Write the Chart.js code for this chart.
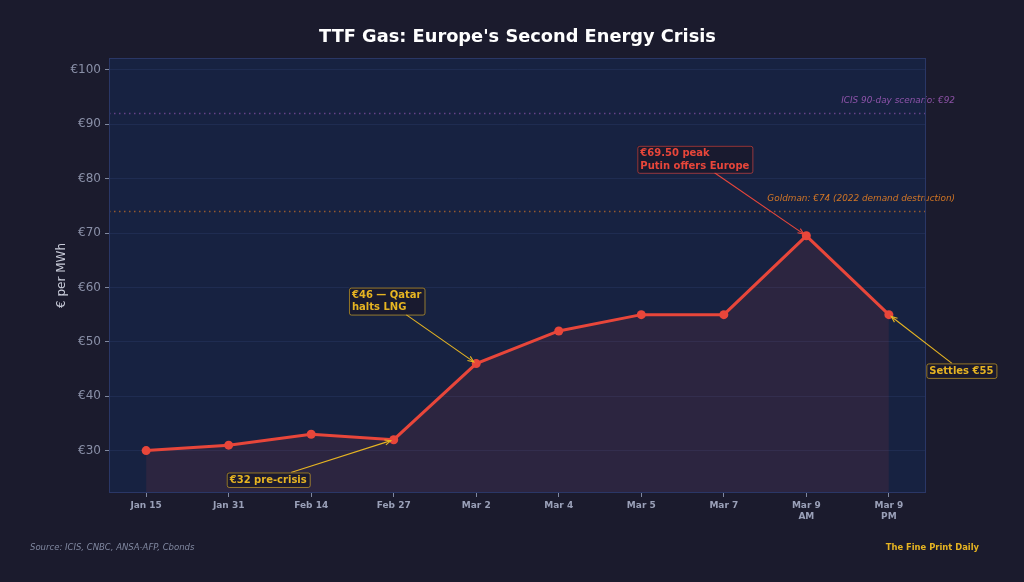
<!DOCTYPE html>
<html><head><meta charset="utf-8">
<script src="https://cdn.jsdelivr.net/npm/chart.js@4/dist/chart.umd.min.js"></script>
<style>html,body{margin:0;padding:0;background:#1b1b2d;}canvas{display:block;}</style>
</head><body>
<canvas id="c" width="1024" height="582"></canvas>
<script>
const categories = [["Jan 15"],["Jan 31"],["Feb 14"],["Feb 27"],["Mar 2"],["Mar 4"],["Mar 5"],["Mar 7"],["Mar 9","AM"],["Mar 9","PM"]];
const prices = [30, 31, 33, 32, 46, 52, 55, 55, 69.5, 55];
const yTicks = [30, 40, 50, 60, 70, 80, 90, 100];
const refLevels = [92, 74];
const refLabels = ["ICIS 90-day scenario: €92", "Goldman: €74 (2022 demand destruction)"];
const annotTexts = [["€32 pre-crisis"], ["€46 — Qatar", "halts LNG"], ["€69.50 peak", "Putin offers Europe"], ["Settles €55"]];
const annotIdx = [3, 4, 8, 9];

const FONT = "'DejaVu Sans', sans-serif";
const refColors = ["#9b59b6", "#e67e22"];
const annotStyle = [
  {dx:-125.5, dy:40, color:"#e6b422"},
  {dx:-89.5, dy:-62.5, color:"#e6b422"},
  {dx:-111.5, dy:-76.5, color:"#e8463a"},
  {dx:72.5, dy:56, color:"#e6b422"}
];

const decor = {
  id:'decor',
  beforeDraw(chart){
    const {ctx, chartArea:a} = chart;
    ctx.save();
    ctx.fillStyle = '#1b1b2d';
    ctx.fillRect(0,0,chart.width,chart.height);
    ctx.fillStyle = '#172241';
    ctx.fillRect(a.left, a.top, a.right-a.left, a.bottom-a.top);
    ctx.restore();
  },
  beforeDatasetsDraw(chart){
    const {ctx, chartArea:a, scales:{y}} = chart;
    ctx.save();
    refLevels.forEach((v,i)=>{
      const py = Math.round(y.getPixelForValue(v))+0.5;
      ctx.strokeStyle = refColors[i];
      ctx.globalAlpha = 0.6;
      ctx.lineWidth = 1.5;
      ctx.setLineDash([1.5,3.5]);
      ctx.beginPath(); ctx.moveTo(a.left, py); ctx.lineTo(a.right, py); ctx.stroke();
      ctx.globalAlpha = 0.9;
      ctx.setLineDash([]);
      ctx.fillStyle = refColors[i];
      ctx.font = "italic 8.9px " + FONT;
      ctx.textAlign = 'right';
      ctx.textBaseline = 'middle';
      ctx.fillText(refLabels[i], 955, py - 13);
    });
    ctx.restore();
  },
  afterDraw(chart){
    const {ctx, chartArea:a, scales:{x,y}} = chart;
    ctx.save();
    // border
    ctx.strokeStyle = '#2a3766';
    ctx.lineWidth = 1;
    ctx.strokeRect(a.left+0.5, a.top+0.5, a.right-a.left-1, a.bottom-a.top-1);
    // title
    ctx.fillStyle = '#ffffff';
    ctx.font = "bold 17.8px " + FONT;
    ctx.textAlign = 'center'; ctx.textBaseline = 'middle';
    ctx.fillText("TTF Gas: Europe's Second Energy Crisis", 517.5, 37);
    // footer
    ctx.font = "italic 8.5px " + FONT;
    ctx.fillStyle = '#8088a0';
    ctx.textAlign = 'left';
    ctx.fillText("Source: ICIS, CNBC, ANSA-AFP, Cbonds", 30, 548);
    ctx.font = "bold 8.4px " + FONT;
    ctx.fillStyle = '#e6b422';
    ctx.textAlign = 'right';
    ctx.fillText("The Fine Print Daily", 979, 548);
    // annotations
    annotIdx.forEach((idx,i)=>{
      const st = annotStyle[i];
      const tx = x.getPixelForValue(idx), ty = y.getPixelForValue(prices[idx]);
      const cx = tx + st.dx, cy = ty + st.dy;
      const lines = annotTexts[i];
      ctx.font = "bold 10px " + FONT;
      const w = Math.max(...lines.map(l=>ctx.measureText(l).width)) + 6;
      const lh = 12.5;
      const h = lines.length*lh + 2;
      const bx = cx - w/2, by = cy - h/2;
      const ddx = tx - cx, ddy = ty - cy;
      let t = Math.min(Math.abs((w/2)/ddx || Infinity), Math.abs((h/2)/ddy || Infinity));
      const sx = cx + ddx*t, sy = cy + ddy*t;
      const len = Math.hypot(ddx,ddy);
      const ux = ddx/len, uy = ddy/len;
      const ex = tx - ux*3, ey = ty - uy*3;
      ctx.strokeStyle = st.color; ctx.lineWidth = 1.1;
      ctx.beginPath(); ctx.moveTo(sx,sy); ctx.lineTo(ex,ey); ctx.stroke();
      const ah = 6, aw = 2.5;
      ctx.beginPath();
      ctx.moveTo(ex - ux*ah - uy*aw, ey - uy*ah + ux*aw);
      ctx.lineTo(ex, ey);
      ctx.lineTo(ex - ux*ah + uy*aw, ey - uy*ah - ux*aw);
      ctx.stroke();
      ctx.fillStyle = 'rgba(26,26,46,0.9)';
      ctx.fillRect(bx, by, w, h);
      ctx.globalAlpha = 0.6;
      ctx.strokeStyle = st.color; ctx.lineWidth = 1;
      ctx.beginPath();
      if (ctx.roundRect) ctx.roundRect(bx+0.5, by+0.5, w, h, 2); else ctx.rect(bx+0.5,by+0.5,w,h);
      ctx.stroke();
      ctx.globalAlpha = 1;
      ctx.fillStyle = st.color;
      ctx.textAlign = 'left'; ctx.textBaseline = 'middle';
      lines.forEach((l,j)=>ctx.fillText(l, bx+3, by + 1 + lh/2 + j*lh + 0.5));
    });
    // y axis label
    ctx.translate(62, 275.5);
    ctx.rotate(-Math.PI/2);
    ctx.fillStyle = '#c8cbd8';
    ctx.font = "12px " + FONT;
    ctx.textAlign = 'center'; ctx.textBaseline = 'middle';
    ctx.fillText("€ per MWh", 0, 0);
    ctx.restore();
  }
};

new Chart(document.getElementById('c'), {
  type: 'line',
  data: {
    datasets: [{
      data: prices.map((v,i)=>({x:i, y:v})),
      borderColor: '#e8463a',
      backgroundColor: 'rgba(232,70,58,0.1)',
      fill: 'start',
      borderWidth: 3,
      pointRadius: 4.5,
      pointBackgroundColor: '#e8463a',
      pointBorderColor: '#e8463a',
      pointBorderWidth: 0,
      tension: 0
    }]
  },
  options: {
    responsive: false,
    animation: false,
    devicePixelRatio: 1,
    layout: { padding: { left: 0, right: 98, top: 58, bottom: 0 } },
    plugins: { legend: {display:false}, tooltip: {enabled:false} },
    scales: {
      x: {
        type: 'linear', min: -0.45, max: 9.45,
        afterBuildTicks(s){ s.ticks = categories.map((c,i)=>({value:i})); },
        afterFit(s){ s.height = 89; },
        border: { display: false },
        grid: { drawOnChartArea: false, drawTicks: true, tickLength: 4, tickColor: '#8088a0' },
        ticks: {
          color: '#9aa0b8', font: { family: FONT, size: 9, weight: 'bold' },
          padding: 3, maxRotation: 0, autoSkip: false,
          callback: (v) => categories[v]
        }
      },
      y: {
        min: 22.2, max: 102.2,
        afterBuildTicks(s){ s.ticks = yTicks.map(v=>({value:v})); },
        afterFit(s){ s.width = 109; },
        border: { display: false },
        grid: { color: 'rgba(50,70,120,0.3)', lineWidth: 1, drawTicks: true, tickLength: 4, tickColor: '#8088a0' },
        ticks: {
          color: '#8a90a8', font: { family: FONT, size: 12 }, padding: 4,
          callback: (v) => '€' + v
        }
      }
    }
  },
  plugins: [decor]
});
</script>
</body></html>
